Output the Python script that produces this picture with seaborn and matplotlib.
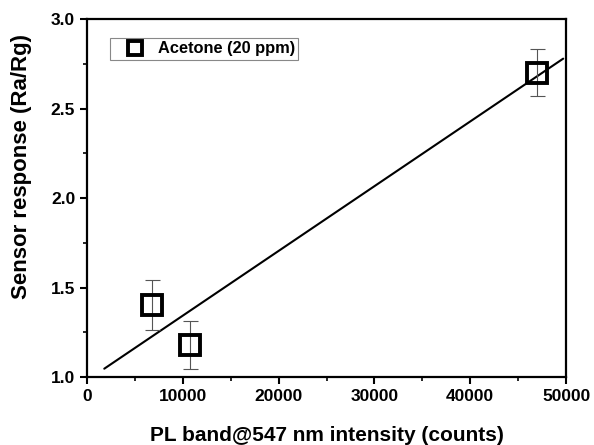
import numpy as np
import pandas as pd
import seaborn as sns
import matplotlib.pyplot as plt
from matplotlib.ticker import MultipleLocator

# data
pl_intensity = [6800, 10800, 47000]
response = [1.40, 1.18, 2.70]
response_err = [0.14, 0.135, 0.13]
fit_range = [1800, 49700]

df = pd.DataFrame({"x": pl_intensity, "y": response, "err": response_err})

# linear fit
slope, intercept = np.polyfit(df["x"], df["y"], 1)
fit_x = np.array(fit_range)
fit_df = pd.DataFrame({"x": fit_x, "y": slope * fit_x + intercept})

sns.set_style("ticks", {"axes.edgecolor": "black", "text.color": "black",
                        "axes.labelcolor": "black", "xtick.color": "black",
                        "ytick.color": "black"})
plt.rcParams['font.family'] = ['Liberation Sans', 'DejaVu Sans']
plt.rcParams['font.weight'] = 'bold'

fig = plt.figure(figsize=(5.94, 4.45), dpi=100)
ax = fig.add_axes([0.1465, 0.1528, 0.8065, 0.8045])

sns.lineplot(data=fit_df, x="x", y="y", color="black", lw=1.5, ax=ax, legend=False)
ax.errorbar(df["x"], df["y"], yerr=df["err"], fmt="none", ecolor="#555555",
            elinewidth=0.8, capsize=5.4, capthick=0.8, zorder=3)
ax.plot(df["x"], df["y"], ls="none", marker="s", ms=14, mfc="none",
        mec="black", mew=2.8, label="Acetone (20 ppm)", zorder=4)

ax.set_xlim(0, 50000)
ax.set_ylim(1.0, 3.0)
ax.xaxis.set_major_locator(MultipleLocator(10000))
ax.xaxis.set_minor_locator(MultipleLocator(5000))
ax.yaxis.set_major_locator(MultipleLocator(0.5))
ax.yaxis.set_minor_locator(MultipleLocator(0.25))
ax.tick_params(which="major", direction="out", length=5, width=1.5, labelsize=12.5,
               colors="black")
ax.tick_params(which="minor", direction="out", length=3, width=1.2, colors="black")
for lab in ax.get_xticklabels() + ax.get_yticklabels():
    lab.set_fontweight("bold")
for sp in ax.spines.values():
    sp.set_visible(True)
    sp.set_color("black")
    sp.set_linewidth(1.6)

ax.set_xlabel("PL band@547 nm intensity (counts)", fontsize=15, fontweight="bold",
              color="black")
ax.set_ylabel("Sensor response (Ra/Rg)", fontsize=16, fontweight="bold", color="black")
ax.xaxis.set_label_coords(0.5, -0.137)
ax.yaxis.set_label_coords(-0.115, 0.589)

leg = ax.legend(loc="upper left", bbox_to_anchor=(0.048, 0.947), borderaxespad=0,
                fancybox=False, framealpha=1, edgecolor="#888888", borderpad=0.2,
                handlelength=2.6, handletextpad=0.1, markerscale=0.72,
                prop={"weight": "bold", "size": 11.8})
leg.get_frame().set_linewidth(0.8)
for t in leg.get_texts():
    t.set_color("black")

fig.savefig("out.png", dpi=100)
